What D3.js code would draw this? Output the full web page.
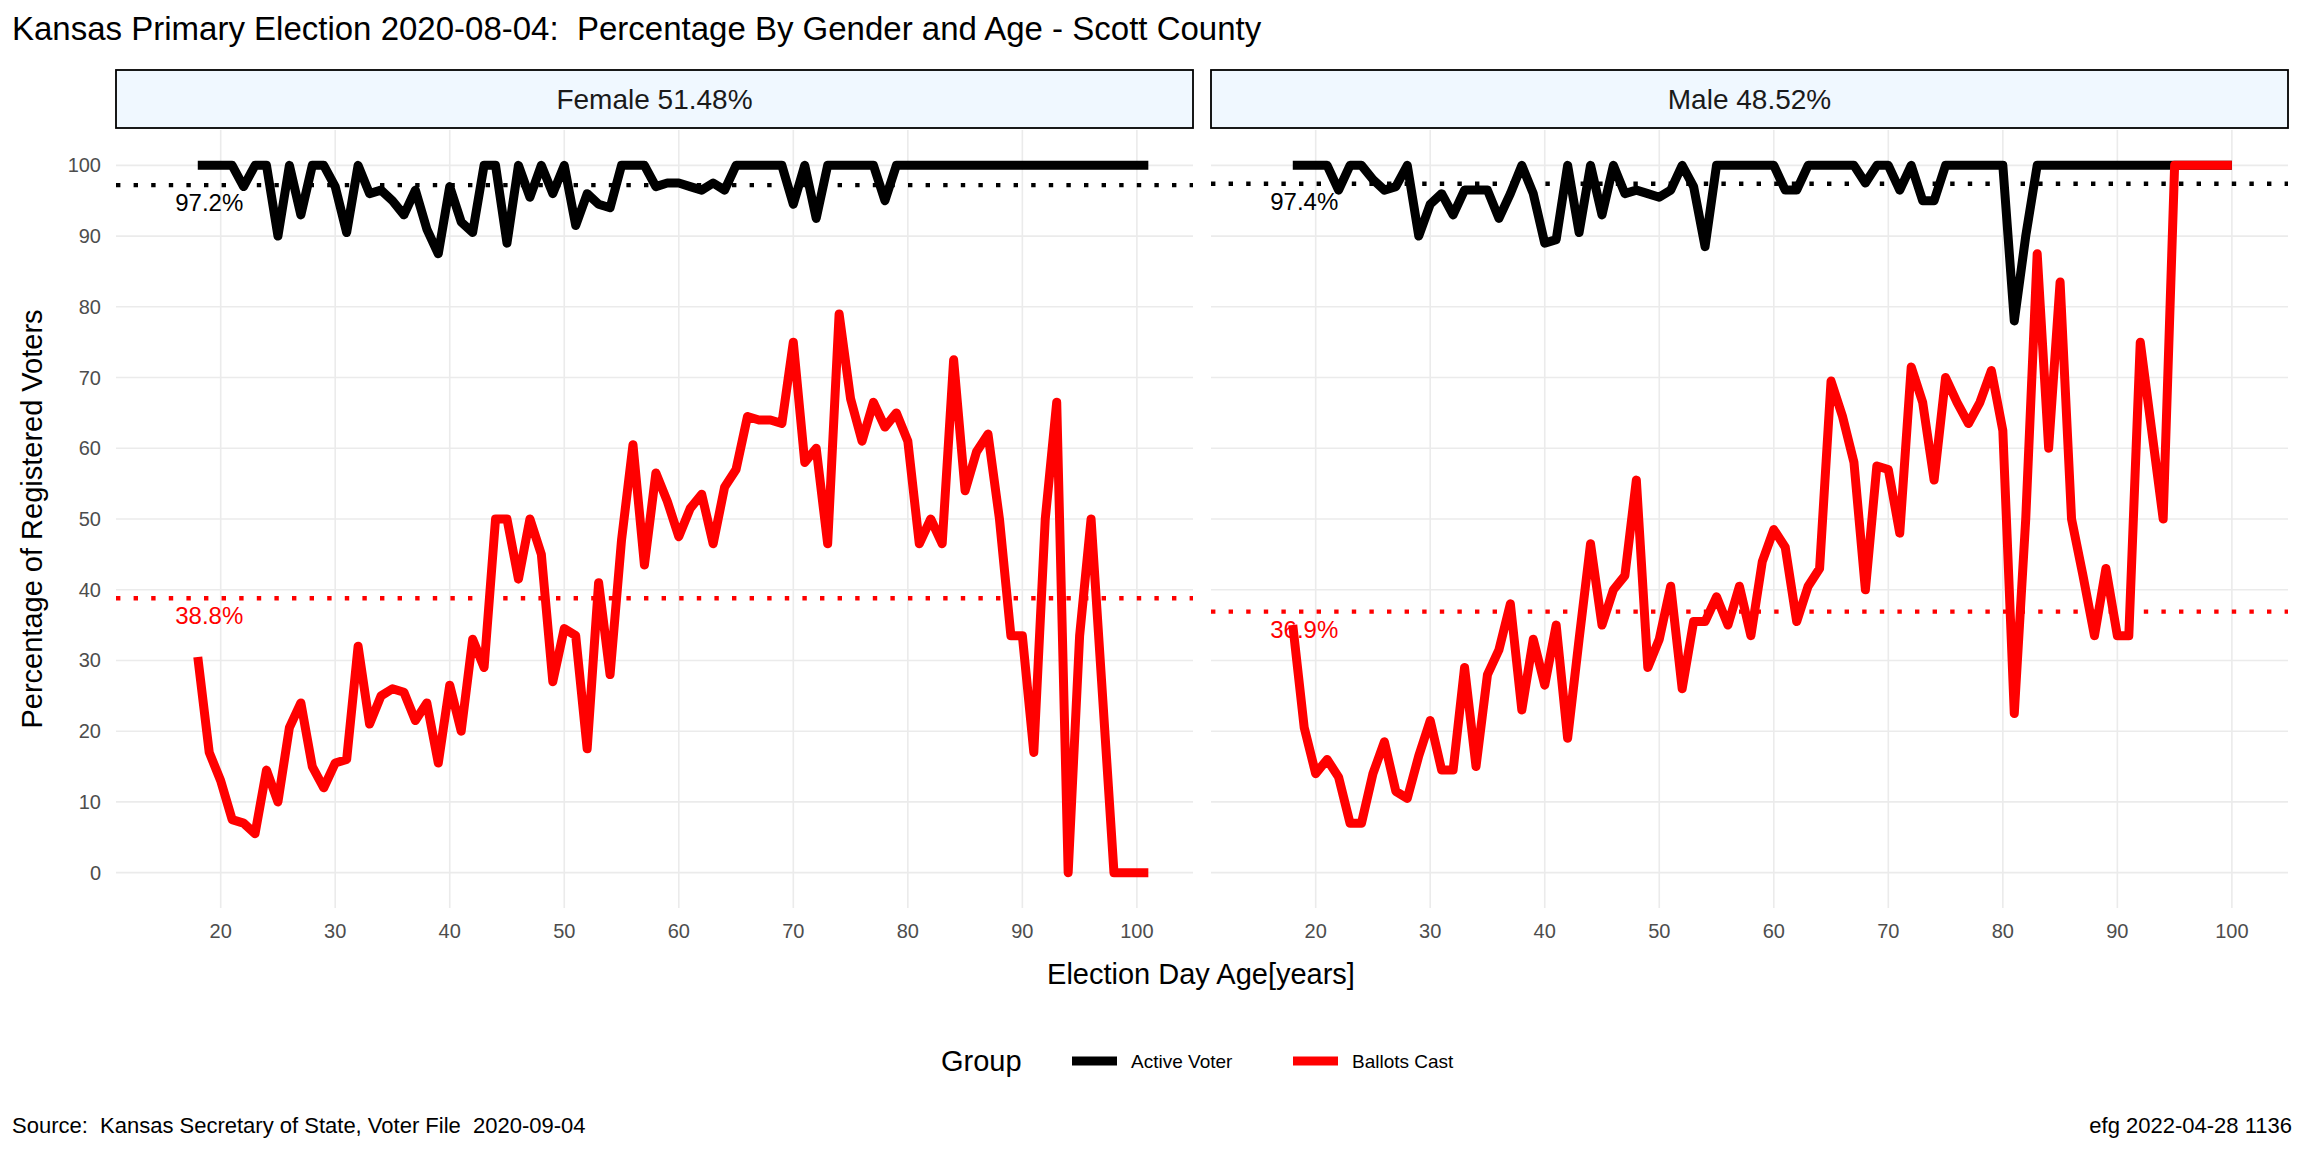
<!DOCTYPE html>
<html>
<head>
<meta charset="utf-8">
<script src="https://cdn.jsdelivr.net/npm/d3@7"></script>
<style>
body { margin: 0; background: #fff; }
text { font-family: "Liberation Sans", Arial, sans-serif; white-space: pre; }
</style>
</head>
<body>
<div id="chart"></div>
<script>
var W = 2304, H = 1152

var ages = d3.range(18, 102)
var femaleActive = [100,100,100,100,97,100,100,90,100,93,100,100,97,90.5,100,96,96.5,95,93,96.5,91,87.5,97,92,90.5,100,100,89,100,95.5,100,96,100,91.5,96,94.5,94,100,100,100,97,97.5,97.5,97,96.5,97.5,96.5,100,100,100,100,100,94.5,100,92.5,100,100,100,100,100,95,100,100,100,100,100,100,100,100,100,100,100,100,100,100,100,100,100,100,100,100,100,100,100]
var femaleBallots = [30.5,17,13,7.5,7,5.5,14.5,10,20.5,24,15,12,15.5,16,32,21,25,26,25.5,21.5,24,15.5,26.5,20,33,29,50,50,41.5,50,45,27,34.5,33.5,17.5,41,28,47,60.5,43.5,56.5,52.5,47.5,51.5,53.5,46.5,54.5,57,64.5,64,64,63.5,75,58,60,46.5,79,67,61,66.5,63,65,61,46.5,50,46.5,72.5,54,59.5,62,50,33.5,33.5,17,50,66.5,0,33.5,50,25,0,0,0,0]
var maleAges = d3.range(18, 101)
var maleActive = [100,100,100,100,96.5,100,100,98,96.5,97,100,90,94.5,96,93,96.5,96.5,96.5,92.5,96,100,96,89,89.5,100,90.5,100,93,100,96,96.5,96,95.5,96.5,100,97,88.5,100,100,100,100,100,100,96.5,96.5,100,100,100,100,100,97.5,100,100,96.5,100,95,95,100,100,100,100,100,100,78,90,100,100,100,100,100,100,100,100,100,100,100,100,100,100,100,100,100,100]
var maleBallots = [35,20.5,14,16,13.5,7,7,14,18.5,11.5,10.5,16.5,21.5,14.5,14.5,29,15,28,31.5,38,23,33,26.5,35,19,33,46.5,35,40,42,55.5,29,33,40.5,26,35.5,35.5,39,35,40.5,33.5,44,48.5,46,35.5,40.5,43,69.5,64.5,58,40,57.5,57,48,71.5,66.5,55.5,70,66.5,63.5,66.5,71,62.5,22.5,50,87.5,60,83.5,50,42,33.5,43,33.5,33.5,75,62.5,50,100,100,100,100,100,100]

var panels = [
  {label: "Female 51.48%", ages: ages, active: femaleActive, ballots: femaleBallots, meanA: 97.2, meanB: 38.8, x0: 116},
  {label: "Male 48.52%", ages: maleAges, active: maleActive, ballots: maleBallots, meanA: 97.4, meanB: 36.9, x0: 1211}
]
var yTicks = d3.range(0, 101, 10)
var xTicks = d3.range(20, 101, 10)

var pw = 1077, pTop = 130, pBottom = 908
var y = d3.scaleLinear().domain([-5, 105]).range([pBottom, pTop])

var svg = d3.select("#chart").append("svg").attr("width", W).attr("height", H)

svg.append("text").attr("x", 12).attr("y", 40).style("font-size", "33px")
  .text("Kansas Primary Election 2020-08-04:  Percentage By Gender and Age - Scott County")

var line = function(x, vals, xs) {
  return d3.line().x(function(d, i) { return x(xs[i]) }).y(function(d) { return y(d) })(vals)
}

panels.forEach(function(p) {
  var x = d3.scaleLinear().domain([10.86, 104.9]).range([p.x0, p.x0 + pw])
  var g = svg.append("g")

  // grid
  g.selectAll(".gy").data(yTicks).enter().append("line")
    .attr("x1", p.x0).attr("x2", p.x0 + pw)
    .attr("y1", function(d) { return y(d) }).attr("y2", function(d) { return y(d) })
    .attr("stroke", "#ebebeb").attr("stroke-width", 1.6)
  g.selectAll(".gx").data(xTicks).enter().append("line")
    .attr("y1", pTop).attr("y2", pBottom)
    .attr("x1", function(d) { return x(d) }).attr("x2", function(d) { return x(d) })
    .attr("stroke", "#ebebeb").attr("stroke-width", 1.6)

  // strip
  g.append("rect").attr("x", p.x0).attr("y", 70).attr("width", pw).attr("height", 58)
    .attr("fill", "#f0f8ff").attr("stroke", "black").attr("stroke-width", 1.8)
  g.append("text").attr("x", p.x0 + pw / 2).attr("y", 109).attr("text-anchor", "middle")
    .style("font-size", "28px").attr("fill", "#1a1a1a").text(p.label)

  // x ticks
  g.selectAll(".xt").data(xTicks).enter().append("text")
    .attr("x", function(d) { return x(d) }).attr("y", 938).attr("text-anchor", "middle")
    .style("font-size", "20px").attr("fill", "#4d4d4d").text(function(d) { return d })

  // mean lines
  g.append("line").attr("x1", p.x0).attr("x2", p.x0 + pw)
    .attr("y1", y(p.meanA)).attr("y2", y(p.meanA))
    .attr("stroke", "black").attr("stroke-width", 4.4).attr("stroke-dasharray", "4.4 13.2")
  g.append("line").attr("x1", p.x0).attr("x2", p.x0 + pw)
    .attr("y1", y(p.meanB)).attr("y2", y(p.meanB))
    .attr("stroke", "red").attr("stroke-width", 4.4).attr("stroke-dasharray", "4.4 13.2")

  g.append("path").attr("d", line(x, p.active, p.ages))
    .attr("fill", "none").attr("stroke", "black").attr("stroke-width", 9).attr("stroke-linejoin", "round")
  g.append("path").attr("d", line(x, p.ballots, p.ages))
    .attr("fill", "none").attr("stroke", "red").attr("stroke-width", 9).attr("stroke-linejoin", "round")

  g.append("text").attr("x", x(19)).attr("y", y(p.meanA) + 26).attr("text-anchor", "middle")
    .style("font-size", "24px").attr("fill", "black").text(p.meanA.toFixed(1) + "%")
  g.append("text").attr("x", x(19)).attr("y", y(p.meanB) + 26).attr("text-anchor", "middle")
    .style("font-size", "24px").attr("fill", "red").text(p.meanB.toFixed(1) + "%")
})

// y ticks (left panel only)
svg.selectAll(".yt").data(yTicks).enter().append("text")
  .attr("x", 101).attr("y", function(d) { return y(d) + 7 }).attr("text-anchor", "end")
  .style("font-size", "20px").attr("fill", "#4d4d4d").text(function(d) { return d })

svg.append("text").attr("x", 1201).attr("y", 984).attr("text-anchor", "middle")
  .style("font-size", "29px").text("Election Day Age[years]")
svg.append("text").attr("transform", "translate(42," + (y(50)) + ") rotate(-90)")
  .attr("text-anchor", "middle").style("font-size", "29px").text("Percentage of Registered Voters")

// legend
svg.append("text").attr("x", 941).attr("y", 1071).style("font-size", "29px").text("Group")
svg.append("line").attr("x1", 1072).attr("x2", 1117).attr("y1", 1061).attr("y2", 1061)
  .attr("stroke", "black").attr("stroke-width", 9)
svg.append("text").attr("x", 1131).attr("y", 1068).style("font-size", "19px").text("Active Voter")
svg.append("line").attr("x1", 1293).attr("x2", 1338).attr("y1", 1061).attr("y2", 1061)
  .attr("stroke", "red").attr("stroke-width", 9)
svg.append("text").attr("x", 1352).attr("y", 1068).style("font-size", "19px").text("Ballots Cast")

svg.append("text").attr("x", 12).attr("y", 1133).style("font-size", "22px")
  .text("Source:  Kansas Secretary of State, Voter File  2020-09-04")
svg.append("text").attr("x", 2292).attr("y", 1133).attr("text-anchor", "end").style("font-size", "22px")
  .text("efg 2022-04-28 1136")
</script>
</body>
</html>
